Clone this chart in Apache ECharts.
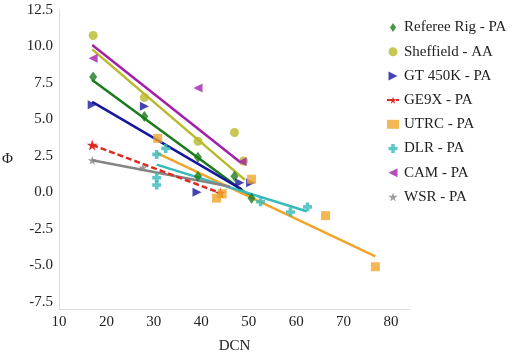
<!DOCTYPE html>
<html><head><meta charset="utf-8">
<script src="https://cdn.jsdelivr.net/npm/echarts@6/dist/echarts.min.js"></script>
<style>html,body{margin:0;padding:0;background:#fff}#c{width:512px;height:355px}</style>
</head><body><div id="c"></div>
<script>
// Tick labels
const xTicks = [10, 20, 30, 40, 50, 60, 70, 80];
const yTicks = [-7.5, -5.0, -2.5, 0.0, 2.5, 5.0, 7.5, 10.0, 12.5];

// Series names
const names = ['Referee Rig - PA','Sheffield - AA','GT 450K - PA','GE9X - PA','UTRC - PA','DLR - PA','CAM - PA','WSR - PA'];

// Measured points [DCN, Phi]
const refereePts = [[17.2,7.9],[28.0,5.2],[39.3,2.4],[39.3,1.1],[47.0,1.1],[50.6,-0.4]];
const sheffieldPts = [[17.2,10.75],[28.0,6.5],[39.3,3.5],[47.0,4.1],[48.9,2.15]];
const gt450Pts = [[17.0,6.0],[28.0,5.9],[39.1,0.0],[48.1,0.65],[50.4,0.65]];
const ge9xPts = [[17.0,3.25],[44.0,-0.05]];
const utrcPts = [[30.8,3.7],[43.2,-0.4],[44.4,-0.1],[50.6,0.9],[66.2,-1.6],[76.7,-5.1]];
const dlrPts = [[30.6,2.6],[32.5,3.0],[30.6,1.0],[30.6,0.5],[52.5,-0.65],[58.8,-1.35],[62.4,-1.0]];
const camPts = [[17.2,9.2],[39.3,7.15],[48.6,2.1]];
const wsrPts = [[17.0,2.2],[27.7,1.7]];

// Trend line end points
const refereeFit = [[17.0,7.7],[50.5,-0.3]];
const sheffieldFit = [[17.0,9.8],[49.2,0.85]];
const gt450Fit = [[17.0,6.2],[48.5,0.2]];
const utrcFit = [[30.6,2.7],[76.7,-4.4]];
const dlrFit = [[30.6,1.9],[62.2,-1.3]];
const camFit = [[17.0,10.1],[48.5,2.0]];
const wsrFit = [[17.0,2.2],[46.0,0.4]];

const colors = {
  referee:'#1b7a1b', sheffield:'#b9b92c', gt:'#16169e', ge:'#de2a22',
  utrc:'#f0a62a', dlr:'#36baba', cam:'#a21fa8', wsr:'#858585'
};
const plusPath = 'path://M3,0 L7,0 L7,3 L10,3 L10,7 L7,7 L7,10 L3,10 L3,7 L0,7 L0,3 L3,3 Z';
const starPath = 'path://M50,0 L61,35 L98,35 L68,57 L79,91 L50,70 L21,91 L32,57 L2,35 L39,35 Z';
const rightTri = 'path://M0,0 L10,5 L0,10 Z';
const leftTri = 'path://M10,0 L0,5 L10,10 Z';
const diamondPath = 'path://M4,0 L8,6 L4,12 L0,6 Z';

function fit(name, data, color){
  return {type:'line', name:name, data:data, symbol:'none', silent:true, z:2,
    lineStyle:{color:color, width:2.5}, itemStyle:{color:color}};
}
function pts(name, data, color, symbol, size){
  return {type:'scatter', name:name, data:data, symbol:symbol, symbolSize:size,
    z:3, itemStyle:{color:color}};
}

const font = 'Liberation Serif';
const chart = echarts.init(document.getElementById('c'));
chart.setOption({
  animation:false,
  grid:{left:59, right:102, top:10, bottom:46, outerBoundsMode:'none', containLabel:false},
  legend:{
    data:names.map((n,i)=>{
      if (i===0) return {name:n, icon:diamondPath};
      if (i===2) return {name:n, icon:rightTri};
      if (i===6) return {name:n, icon:leftTri};
      return {name:n};
    }),
    orient:'vertical', left:381, top:15, itemWidth:12, itemHeight:9, itemGap:9.2,
    textStyle:{fontFamily:font, fontSize:15, color:'#222'}
  },
  xAxis:{
    type:'value', min:10, max:84, name:'DCN', nameLocation:'middle', nameGap:30,
    nameTextStyle:{fontFamily:font, fontSize:15, color:'#222'},
    axisLine:{show:true, onZero:false, lineStyle:{color:'#dcdcdc'}}, axisTick:{show:false}, splitLine:{show:false},
    axisLabel:{customValues:xTicks, fontFamily:font, fontSize:15, color:'#222', margin:6}
  },
  yAxis:{
    type:'value', min:-8, max:12.5, name:'Φ', nameLocation:'middle', nameGap:46, nameRotate:0,
    nameTextStyle:{fontFamily:font, fontSize:15, color:'#222'},
    axisLine:{show:true, onZero:false, lineStyle:{color:'#dcdcdc'}}, axisTick:{show:false}, splitLine:{show:false},
    axisLabel:{customValues:yTicks, fontFamily:font, fontSize:15, color:'#222', margin:6,
      formatter:v=>v.toFixed(1)}
  },
  series:[
    fit('fitRef', refereeFit, colors.referee),
    fit('fitShef', sheffieldFit, colors.sheffield),
    fit('fitGT', gt450Fit, colors.gt),
    fit('fitUTRC', utrcFit, colors.utrc),
    fit('fitDLR', dlrFit, colors.dlr),
    fit('fitCAM', camFit, colors.cam),
    fit('fitWSR', wsrFit, colors.wsr),
    pts(names[0], refereePts, colors.referee, 'diamond', [8,11]),
    pts(names[1], sheffieldPts, colors.sheffield, 'circle', 9),
    pts(names[2], gt450Pts, colors.gt, rightTri, 9),
    {type:'line', name:names[3], data:ge9xPts, symbol:starPath, symbolSize:11, showSymbol:true, z:3,
      lineStyle:{color:colors.ge, width:2.5, type:[6,3]}, itemStyle:{color:colors.ge}},
    pts(names[4], utrcPts, colors.utrc, 'rect', 9),
    pts(names[5], dlrPts, colors.dlr, plusPath, 9),
    pts(names[6], camPts, colors.cam, leftTri, 9),
    pts(names[7], wsrPts, colors.wsr, starPath, 9)
  ]
});
</script></body></html>
